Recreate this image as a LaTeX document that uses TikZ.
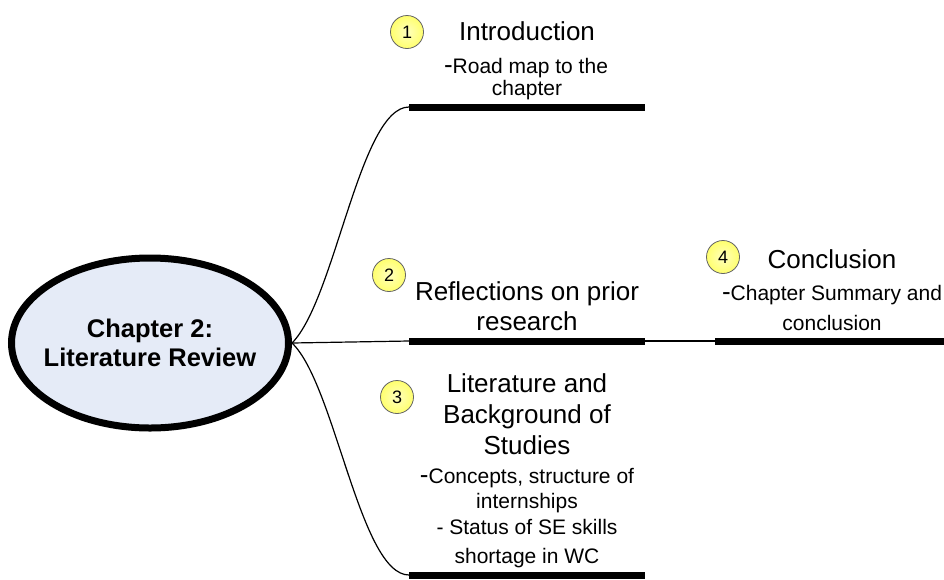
\documentclass[tikz,border=0pt]{standalone}
\usepackage{fontspec}
\setmainfont{Liberation Sans}
\usetikzlibrary{shapes.geometric}
\definecolor{hubfill}{RGB}{229,235,247}
\definecolor{badgein}{RGB}{255,255,190}
\definecolor{badgeout}{RGB}{255,255,110}
\definecolor{badgeline}{RGB}{100,100,100}
\newcommand\bigdash{{\fontsize{26}{26}\selectfont -}}

\begin{document}
\begin{tikzpicture}[x=1pt,y=-1pt,
  hub/.style={ellipse, draw, line width=7pt, fill=hubfill,
    minimum width=277pt, minimum height=170pt, align=center,
    inner xsep=-8.5pt, inner ysep=0pt,
    font=\fontsize{25.5}{29}\selectfont\bfseries},
  badge/.style={circle, draw=badgeline, line width=0.8pt,
    inner color=badgein, outer color=badgeout,
    minimum size=33pt, inner sep=0pt, font=\fontsize{18}{18}\selectfont},
  head/.style={anchor=base, inner sep=0pt, font=\fontsize{26}{30}\selectfont},
  note/.style={anchor=base, inner sep=0pt, font=\fontsize{21}{25}\selectfont},
  bar/.style={line width=7pt},
  link/.style={line width=1.2pt}
]
\useasboundingbox (0,0) rectangle (944,579);

% central topic
\node[hub] (hub) at (150,343) {Chapter 2:\\Literature Review};

% branch bars
\coordinate (b1l) at (409,107); \coordinate (b1r) at (645,107);
\coordinate (b2l) at (409,341); \coordinate (b2r) at (645,341);
\coordinate (b3l) at (409,575); \coordinate (b3r) at (645,575);
\coordinate (b4l) at (715,341); \coordinate (b4r) at (944,341);

\draw[bar] (b1l) -- (b1r);
\draw[bar] (b2l) -- (b2r);
\draw[bar] (b3l) -- (b3r);
\draw[bar] (b4l) -- (b4r);

% connectors
\draw[link] (hub.east) .. controls (335,300) and (360,107) .. (b1l);
\draw[link] (hub.east) -- (b2l);
\draw[link] (hub.east) .. controls (335,384) and (360,575) .. (b3l);
\draw[link] (b2r) -- (b4l);

% numbered badges
\node[badge] (n1) at (407,32) {1};
\node[badge] (n2) at (389,275) {2};
\node[badge] (n3) at (397,397) {3};
\node[badge] (n4) at (723,257) {4};

% 1: introduction
\node[head] (t1) at (527,40) {Introduction};
\node[note] (t1a) at (526,73.5) {\bigdash Road map to the};
\node[note] (t1b) at (527,95) {chapter};

% 2: reflections
\node[head] (t2) at (527,300) {Reflections on prior};
\node[head] (t2a) at (527,330) {research};

% 3: literature and background
\node[head] (t3) at (527,392) {Literature and};
\node[head] (t3a) at (527,423) {Background of};
\node[head] (t3b) at (527,454) {Studies};
\node[note] (t3c) at (527,483) {\bigdash Concepts, structure of};
\node[note] (t3d) at (527,508) {internships};
\node[note] (t3e) at (527,534) {- Status of SE skills};
\node[note] (t3f) at (527,563) {shortage in WC};

% 4: conclusion
\node[head] (t4) at (832,268) {Conclusion};
\node[note] (t4a) at (832,300) {\bigdash Chapter Summary and};
\node[note] (t4b) at (832,330) {conclusion};
\end{tikzpicture}
\end{document}
